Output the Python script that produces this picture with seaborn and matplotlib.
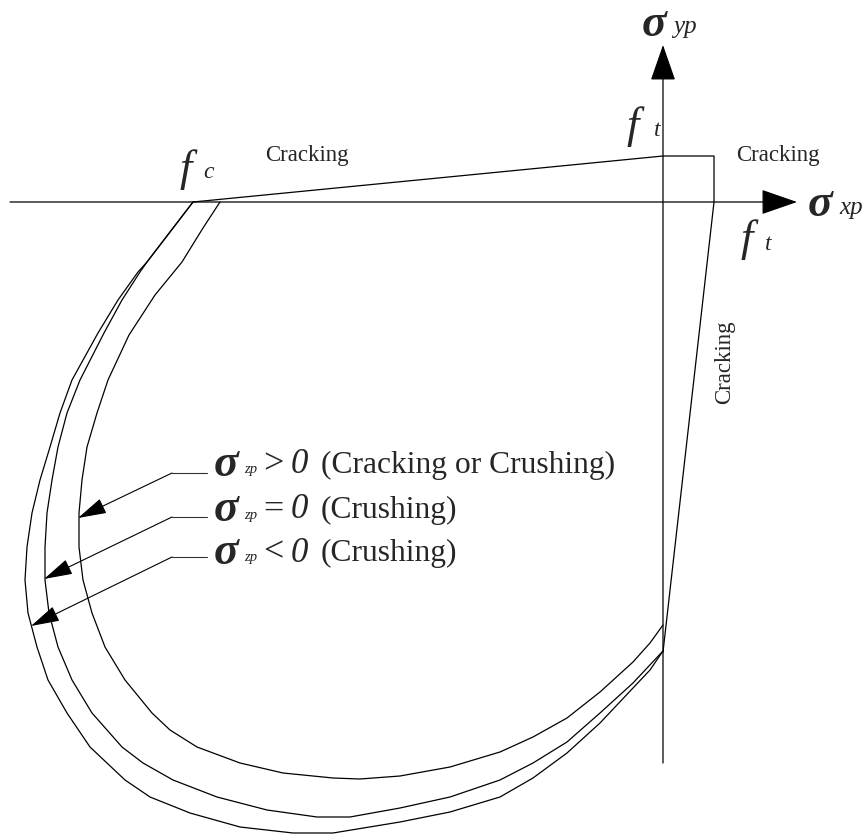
import matplotlib
matplotlib.use("Agg")
import matplotlib.pyplot as plt
import numpy as np
import pandas as pd
import seaborn as sns

# Biaxial failure surface in principal stress space (sigma_xp, sigma_yp),
# stress given in drawing units with the origin at the axis crossing.

# sigma_zp > 0 (cracking or crushing)
curve_pos_x = [-443, -460, -481, -508, -534, -555, -566, -576, -581, -584, -584, -580,
               -571, -558, -538, -511, -493, -466, -423, -380, -330, -303, -263, -213,
               -163, -130, -96, -63, -30, -13, 0]
curve_pos_y = [0, -26, -60, -93, -133, -178, -211, -245, -278, -311, -345, -378,
               -411, -445, -478, -511, -528, -545, -561, -571, -576, -577, -574, -565,
               -550, -535, -516, -490, -460, -441, -423]

# sigma_zp = 0 (crushing)
curve_zero_x = [-470, -493, -516, -523, -541, -559, -583, -596, -605, -611, -616, -618,
                -618, -614, -605, -591, -571, -541, -520, -490, -446, -396, -346, -313,
                -263, -213, -163, -130, -96, -63, -30, 0]
curve_zero_y = [0, -30, -60, -70, -98, -131, -178, -211, -245, -278, -311, -345,
                -378, -411, -445, -478, -511, -545, -561, -578, -595, -608, -615, -615,
                -606, -595, -578, -561, -540, -511, -481, -449]

# sigma_zp < 0 (crushing)
curve_neg_x = [-470, -493, -516, -525, -545, -565, -591, -603, -613, -623, -631, -636,
               -638, -635, -626, -615, -596, -573, -538, -513, -473, -423, -370, -330,
               -263, -213, -163, -130, -96, -63, -30, -13, 0]
curve_neg_y = [0, -30, -60, -70, -98, -131, -178, -211, -245, -278, -311, -345,
               -378, -411, -445, -478, -511, -545, -578, -595, -611, -625, -631, -631,
               -620, -610, -595, -576, -551, -521, -486, -468, -449]

# Cracking envelope: f_c -> f_t (top) -> corner -> f_t (right) -> back to the sigma_yp axis
crack_x = [-470, 0, 51, 51, 0]
crack_y = [0, 46, 46, 0, -450]

# Principal stress axes
x_axis = [-653, 134]
y_axis = [-561, 157]

# Legend leaders: horizontal stub level, arrow tip on each surface
leader_stub_y = [-271, -315, -355]
leader_tip_x = [-585, -619, -632]
leader_tip_y = [-316, -377, -424]
leader_labels = [(">", "(Cracking or Crushing)"), ("=", "(Crushing)"), ("<", "(Crushing)")]
label_center_y = [-263, -308, -351]

sns.set_theme(style="white")
plt.rcParams["font.family"] = ["Liberation Serif", "DejaVu Serif"]

fig = plt.figure(figsize=(8.63, 8.34), dpi=100)
ax = fig.add_axes([0, 0, 1, 1])

frames = []
for name, xs, ys in [("pos", curve_pos_x, curve_pos_y),
                     ("zero", curve_zero_x, curve_zero_y),
                     ("neg", curve_neg_x, curve_neg_y),
                     ("crack", crack_x, crack_y)]:
    frames.append(pd.DataFrame({"sx": xs, "sy": ys, "curve": name,
                                "order": np.arange(len(xs))}))
df = pd.concat(frames, ignore_index=True)

sns.lineplot(data=df, x="sx", y="sy", units="curve", estimator=None, sort=False,
             color="black", linewidth=0.9, ax=ax, legend=False)

axis_arrow = dict(arrowstyle="-|>,head_length=1.15,head_width=0.4", color="black",
                  lw=0.9, mutation_scale=20, shrinkA=0, shrinkB=0)
ax.annotate("", xy=(x_axis[1], 0), xytext=(x_axis[0], 0), arrowprops=axis_arrow)
ax.annotate("", xy=(0, y_axis[1]), xytext=(0, y_axis[0]), arrowprops=axis_arrow)

# Leaders with arrowheads pointing at each surface
lead_arrow = dict(arrowstyle="-|>,head_length=0.9,head_width=0.25", color="black",
                  lw=0.8, mutation_scale=20, shrinkA=0, shrinkB=0)
for sy, tx, ty in zip(leader_stub_y, leader_tip_x, leader_tip_y):
    ax.plot([-491, -456], [sy, sy], color="#333333", lw=0.8)
    ax.annotate("", xy=(tx, ty), xytext=(-491, sy), arrowprops=lead_arrow)

sigma_kw = dict(fontsize=33, fontweight="bold", style="italic")

# Legend labels
for (rel, desc), cy in zip(leader_labels, label_center_y):
    ax.text(-449, cy, "σ", va="center", ha="left", **sigma_kw)
    ax.text(-419, cy - 5, "zp", fontsize=10.5, style="italic", va="center", ha="left")
    ax.text(-390, cy, rel, fontsize=26, va="center", ha="center")
    ax.text(-372, cy, "0", fontsize=25, style="italic", va="center", ha="left")
    ax.text(-342, cy, desc, fontsize=22.7, va="center", ha="left")

# Axis names
ax.text(-21, 177, "σ", va="center", ha="left", **sigma_kw)
ax.text(10, 175, "yp", fontsize=18, style="italic", va="center", ha="left")
ax.text(145, -3, "σ", va="center", ha="left", **sigma_kw)
ax.text(176, -6, "xp", fontsize=18, style="italic", va="center", ha="left")

# Strength labels
ax.text(-30, 75, "f", fontsize=32, style="italic", va="center", ha="center")
ax.text(-6, 71, "t", fontsize=17, style="italic", va="center", ha="center")
ax.text(-477, 32, "f", fontsize=32, style="italic", va="center", ha="center")
ax.text(-454, 29, "c", fontsize=17, style="italic", va="center", ha="center")
ax.text(84, -38, "f", fontsize=32, style="italic", va="center", ha="center")
ax.text(105, -42, "t", fontsize=17, style="italic", va="center", ha="center")

# Failure mode labels
ax.text(-356, 47, "Cracking", fontsize=16.5, va="center", ha="center")
ax.text(115, 46, "Cracking", fontsize=16.5, va="center", ha="center")
ax.text(62, -160, "Cracking", fontsize=16.5, va="center", ha="center", rotation=90)

ax.set_xlim(-663, 200)
ax.set_ylim(-632, 202)
ax.axis("off")

fig.savefig("out.png", dpi=100, facecolor="white")
